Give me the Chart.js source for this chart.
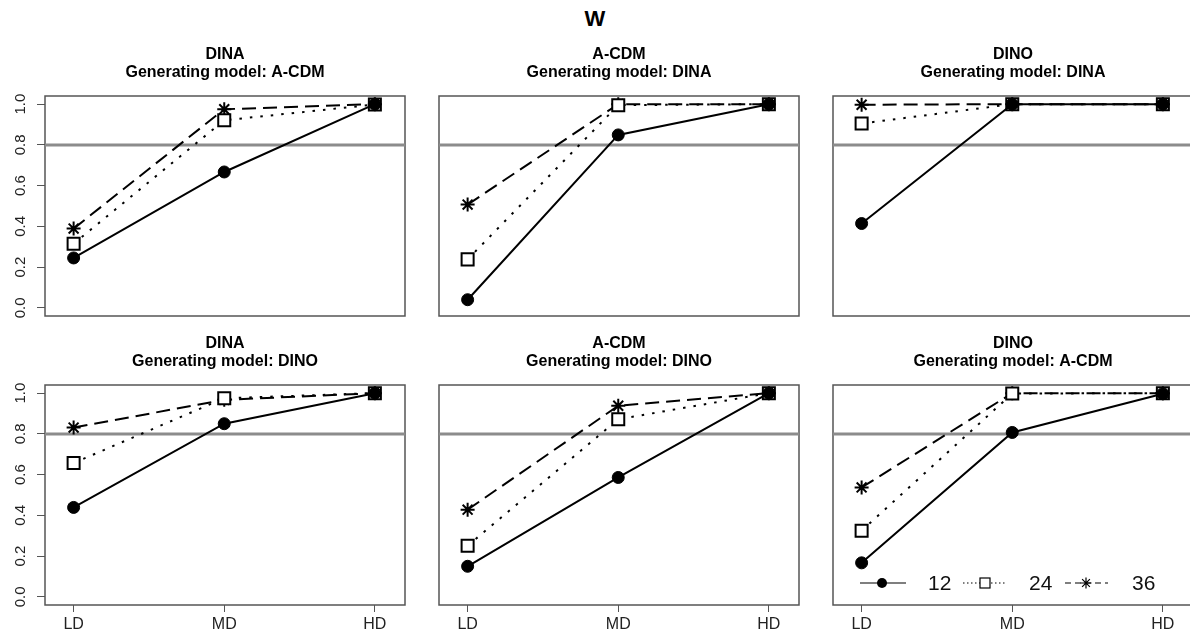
<!DOCTYPE html>
<html lang="en">
<head>
    <meta charset="UTF-8">
    <title>W</title>
    <script src="https://cdn.jsdelivr.net/npm/chart.js@4.4.0/dist/chart.umd.min.js"></script>
    <style>
        body { margin: 0; width: 1190px; height: 637px; overflow: hidden; background: #fff;
               position: relative; font-family: "Liberation Sans", Arial, sans-serif; }
        #title { position: absolute; left: 0; top: 6px; width: 1190px; text-align: center;
                 font-weight: bold; font-size: 22px; line-height: 26px; color: #000; }
        canvas { position: absolute; }
    </style>
</head>
<body>
<div id="title">W</div>
<canvas id="c0" width="407" height="290" style="left:0px;top:30px"></canvas>
<canvas id="c1" width="364" height="290" style="left:437px;top:30px"></canvas>
<canvas id="c2" width="364" height="290" style="left:831px;top:30px"></canvas>
<canvas id="c3" width="407" height="317" style="left:0px;top:320px"></canvas>
<canvas id="c4" width="364" height="317" style="left:437px;top:320px"></canvas>
<canvas id="c5" width="364" height="317" style="left:831px;top:320px"></canvas>

<script>
    // ---- data ----
    var categories = ['LD', 'MD', 'HD'];
    var sizes = ['12', '24', '36'];
    var yTicks = [0, 0.2, 0.4, 0.6, 0.8, 1.0];
    var refLine = 0.8;

    var fittedModels = ['DINA', 'A-CDM', 'DINO', 'DINA', 'A-CDM', 'DINO'];
    var generatingModels = ['A-CDM', 'DINA', 'DINA', 'DINO', 'DINO', 'A-CDM'];

    // rows: 12, 24, 36
    var dinaByAcdm = [[0.245, 0.667, 1.0], [0.315, 0.921, 0.998], [0.389, 0.975, 1.0]];
    var acdmByDina = [[0.040, 0.849, 1.0], [0.238, 0.995, 1.0], [0.507, 1.0, 1.0]];
    var dinoByDina = [[0.414, 1.0, 1.0], [0.905, 1.0, 1.0], [0.997, 1.0, 1.0]];
    var dinaByDino = [[0.439, 0.850, 1.0], [0.657, 0.975, 1.0], [0.831, 0.967, 1.0]];
    var acdmByDino = [[0.150, 0.586, 1.0], [0.251, 0.872, 1.0], [0.428, 0.938, 1.0]];
    var dinoByAcdm = [[0.167, 0.807, 0.997], [0.325, 0.998, 1.0], [0.537, 1.0, 1.0]];

    var panels = [dinaByAcdm, acdmByDina, dinoByDina, dinaByDino, acdmByDino, dinoByAcdm];

    // ---- styles ----
    var FONT = '"Liberation Sans", Arial, sans-serif';
    var dashes = [[], [2.5, 8], [14, 7]];
    var markers = ['circle', 'rect', 'star'];
    var markerSize = [6, 8.5, 7];

    var xPos = categories.map(function (c, i) { return i + 1; });

    function toPoints(vals) {
        return vals.map(function (v, i) { return { x: xPos[i], y: v }; });
    }

    function drawMarker(ctx, style, x, y, r) {
        ctx.beginPath();
        if (style === 'circle') {
            ctx.arc(x, y, r, 0, Math.PI * 2);
            ctx.fill();
        } else if (style === 'rect') {
            ctx.strokeRect(x - r, y - r, 2 * r, 2 * r);
        } else {
            for (var k = 0; k < 4; k++) {
                var a = k * Math.PI / 4;
                ctx.moveTo(x - r * Math.cos(a), y - r * Math.sin(a));
                ctx.lineTo(x + r * Math.cos(a), y + r * Math.sin(a));
            }
            ctx.stroke();
        }
    }

    var panelDecor = {
        id: 'panelDecor',
        beforeDatasetsDraw: function (chart, args, opts) {
            var ctx = chart.ctx, a = chart.chartArea;
            var py = chart.scales.y.getPixelForValue(refLine);
            ctx.save();
            // box
            ctx.strokeStyle = '#555';
            ctx.lineWidth = 1.5;
            ctx.strokeRect(a.left, a.top, a.right - a.left, a.bottom - a.top);
            // reference line
            ctx.strokeStyle = '#8c8c8c';
            ctx.lineWidth = 3;
            ctx.beginPath();
            ctx.moveTo(a.left, py);
            ctx.lineTo(a.right, py);
            ctx.stroke();
            ctx.restore();
        },
        afterDraw: function (chart, args, opts) {
            var ctx = chart.ctx, a = chart.chartArea;
            var cx = (a.left + a.right) / 2;
            ctx.save();
            ctx.fillStyle = '#000';
            ctx.textAlign = 'center';
            ctx.textBaseline = 'middle';
            ctx.font = 'bold 16px ' + FONT;
            ctx.fillText(opts.title, cx, a.top - 41);
            ctx.fillText('Generating model: ' + opts.sub, cx, a.top - 23);

            // rotated y tick labels (left column only)
            if (opts.yLabels) {
                ctx.font = '15px ' + FONT;
                ctx.fillStyle = '#222';
                yTicks.forEach(function (v) {
                    var py = chart.scales.y.getPixelForValue(v);
                    ctx.save();
                    ctx.translate(a.left - 24, py);
                    ctx.rotate(-Math.PI / 2);
                    ctx.fillText(v.toFixed(1), 0, 0);
                    ctx.restore();
                });
            }

            // legend in the last panel
            if (opts.legend) {
                var ly = a.bottom - 22;
                var lineFrom = [27, 130, 232], lineTo = [73, 174, 275];
                var mark = [49, 152, 253], textX = [95, 196, 299];
                var legDash = [[], [1.5, 2.5], [6, 4]];
                var legSize = [5, 5, 5.5];
                ctx.strokeStyle = '#000';
                ctx.fillStyle = '#000';
                ctx.lineWidth = 1.2;
                for (var i = 0; i < sizes.length; i++) {
                    ctx.setLineDash(legDash[i]);
                    ctx.beginPath();
                    ctx.moveTo(a.left + lineFrom[i], ly);
                    ctx.lineTo(a.left + lineTo[i], ly);
                    ctx.stroke();
                    ctx.setLineDash([]);
                    if (i === 1) {
                        ctx.fillStyle = '#fff';
                        ctx.fillRect(a.left + mark[i] - 5, ly - 5, 10, 10);
                        ctx.fillStyle = '#000';
                    }
                    drawMarker(ctx, markers[i], a.left + mark[i], ly, legSize[i]);
                    ctx.font = '21px ' + FONT;
                    ctx.textAlign = 'left';
                    ctx.fillStyle = '#111';
                    ctx.fillText(sizes[i], a.left + textX[i], ly + 1);
                    ctx.fillStyle = '#000';
                }
            }
            ctx.restore();
        }
    };

    panels.forEach(function (vals, p) {
        var col = p % 3;
        var bottomRow = p >= 3;

        var datasets = vals.map(function (series, k) {
            return {
                label: sizes[k],
                data: toPoints(series),
                borderColor: '#000',
                borderWidth: 2,
                borderDash: dashes[k],
                tension: 0,
                pointStyle: markers[k],
                pointRadius: markerSize[k],
                pointBorderColor: '#000',
                pointBorderWidth: k === 0 ? 1 : 2,
                pointBackgroundColor: k === 0 ? '#000' : (k === 1 ? '#fff' : 'rgba(0,0,0,0)')
            };
        });

        new Chart(document.getElementById('c' + p), {
            type: 'line',
            data: { datasets: datasets },
            options: {
                responsive: false,
                animation: false,
                devicePixelRatio: 1,
                layout: {
                    autoPadding: false,
                    padding: {
                        left: col === 0 ? 0 : 2,
                        right: 2,
                        top: bottomRow ? 65 : 66,
                        bottom: bottomRow ? 0 : 4
                    }
                },
                scales: {
                    x: {
                        type: 'linear',
                        min: 0.81,
                        max: 3.2,
                        display: bottomRow,
                        afterBuildTicks: function (s) {
                            s.ticks = xPos.map(function (v) { return { value: v }; });
                        },
                        afterFit: function (s) { s.height = s.options.display ? 32 : 0; },
                        ticks: {
                            autoSkip: false,
                            maxRotation: 0,
                            padding: 3,
                            color: '#222',
                            font: { family: FONT, size: 16 },
                            callback: function (v) { return categories[Math.round(v) - 1]; }
                        },
                        grid: { drawOnChartArea: false, drawTicks: true, tickLength: 7, color: '#555' },
                        border: { display: false }
                    },
                    y: {
                        min: -0.04,
                        max: 1.04,
                        display: col === 0,
                        afterBuildTicks: function (s) {
                            s.ticks = yTicks.map(function (v) { return { value: v }; });
                        },
                        afterFit: function (s) { s.width = s.options.display ? 45 : 0; },
                        ticks: { display: false },
                        grid: { drawOnChartArea: false, drawTicks: true, tickLength: 8, color: '#555' },
                        border: { display: false }
                    }
                },
                plugins: {
                    legend: { display: false },
                    tooltip: { enabled: false },
                    panelDecor: {
                        title: fittedModels[p],
                        sub: generatingModels[p],
                        yLabels: col === 0,
                        legend: p === 5
                    }
                }
            },
            plugins: [panelDecor]
        });
    });
</script>
</body>
</html>
